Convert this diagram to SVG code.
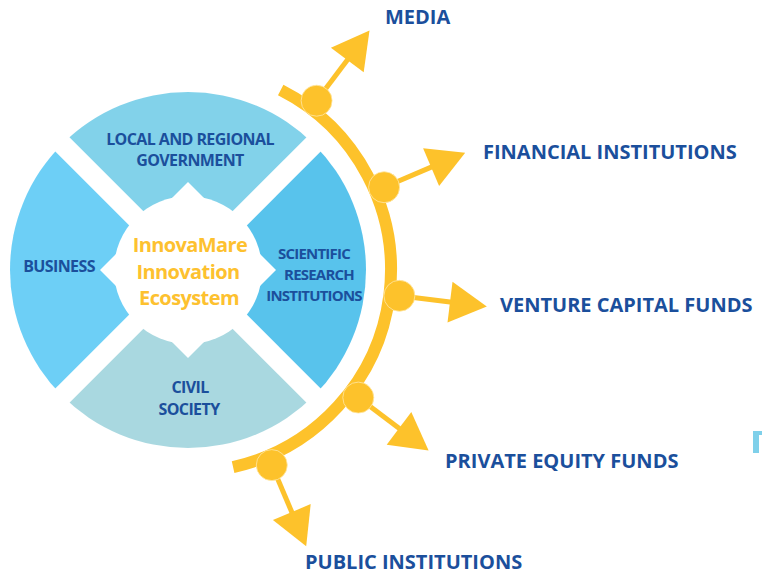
<svg xmlns="http://www.w3.org/2000/svg" width="762" height="575" viewBox="0 0 762 575">
  <style>
    .q { font-family: "Open Sans", "Liberation Sans", sans-serif; font-weight: 700; font-size: 16px; fill: #1B4F9C; text-anchor: middle; letter-spacing: -0.6px; }
    .qs { font-size: 15px; letter-spacing: -0.8px; }
    .ctr { font-family: "Open Sans", "Liberation Sans", sans-serif; font-weight: 700; font-size: 20px; fill: #FDC12F; text-anchor: middle; letter-spacing: -0.6px; }
    .lbl { font-family: "Open Sans", "Liberation Sans", sans-serif; font-weight: 700; font-size: 20px; fill: #1B4F9C; }
    .arc { fill: none; stroke: #FDC22B; stroke-width: 12; }
    .lnk { stroke: #FDC22B; stroke-width: 5; }
    .dot { fill: #FDC22B; stroke: #FFE7A6; stroke-width: 0.8; }
    .head { fill: #FDC22B; }
  </style>
  <defs>
    <mask id="ring" maskUnits="userSpaceOnUse" x="0" y="0" width="762" height="575">
      <circle cx="188" cy="270" r="178" fill="#fff"/>
      <g stroke="#000" stroke-width="20">
        <line x1="-20" y1="62" x2="396" y2="478"/>
        <line x1="396" y1="62" x2="-20" y2="478"/>
      </g>
      <circle cx="188" cy="270" r="74" fill="#000"/>
      <polygon points="188,182 276,270 188,358 100,270" fill="#000"/>
    </mask>
  </defs>
  <rect width="762" height="575" fill="#fff"/>

  <g id="node-local-government">
    <polygon points="188,270 -32,50 408,50" fill="#82D2EA" mask="url(#ring)"/>
    <text class="q" x="190" y="145">LOCAL AND REGIONAL</text>
    <text class="q" x="190" y="166">GOVERNMENT</text>
  </g>
  <g id="node-business">
    <polygon points="188,270 -32,50 -32,490" fill="#6DCFF6" mask="url(#ring)"/>
    <text class="q" x="59" y="272">BUSINESS</text>
  </g>
  <g id="node-scientific">
    <polygon points="188,270 408,50 408,490" fill="#58C3EC" mask="url(#ring)"/>
    <text class="q qs" x="314" y="259">SCIENTIFIC</text>
    <text class="q qs" x="319" y="280">RESEARCH</text>
    <text class="q qs" x="314" y="301">INSTITUTIONS</text>
  </g>
  <g id="node-civil">
    <polygon points="188,270 -32,490 408,490" fill="#A9D8E0" mask="url(#ring)"/>
    <text class="q" x="190" y="393">CIVIL</text>
    <text class="q" x="189" y="415">SOCIETY</text>
  </g>
  <g id="node-center">
    <text class="ctr" x="190" y="252">InnovaMare</text>
    <text class="ctr" x="188" y="279">Innovation</text>
    <text class="ctr" x="189" y="305">Ecosystem</text>
  </g>

  <g id="connectors">
    <path class="arc" d="M280.7,90 A202,202 0 0 1 233.1,467.1"/>
    <line class="lnk" x1="316.6" y1="100.7" x2="349" y2="57.7"/>
    <line class="lnk" x1="384.1" y1="187.2" x2="433" y2="166.4"/>
    <line class="lnk" x1="399.4" y1="295.8" x2="452" y2="302.3"/>
    <line class="lnk" x1="358.3" y1="397.6" x2="401" y2="429.8"/>
    <line class="lnk" x1="271.8" y1="465.1" x2="292.6" y2="514"/>
    <circle class="dot" cx="316.6" cy="100.7" r="15.5"/>
    <circle class="dot" cx="384.1" cy="187.2" r="15.5"/>
    <circle class="dot" cx="399.4" cy="295.8" r="15.5"/>
    <circle class="dot" cx="358.3" cy="397.6" r="15.5"/>
    <circle class="dot" cx="271.8" cy="465.1" r="15.5"/>
    <polygon class="head" points="369.5,30.4 363.7,72.3 330.9,47.7"/>
    <polygon class="head" points="465.2,152.8 439.1,186.1 423.1,148.3"/>
    <polygon class="head" points="486.8,306.6 447.5,322.4 452.5,281.8"/>
    <polygon class="head" points="428.6,450.5 386.7,444.7 411.3,411.9"/>
    <polygon class="head" points="306.2,546.2 272.9,520.1 310.7,504.1"/>
  </g>

  <g id="node-media"><text class="lbl" x="385" y="24">MEDIA</text></g>
  <g id="node-financial"><text class="lbl" x="483" y="159">FINANCIAL INSTITUTIONS</text></g>
  <g id="node-venture"><text class="lbl" x="500" y="312">VENTURE CAPITAL FUNDS</text></g>
  <g id="node-private-equity"><text class="lbl" x="445" y="468">PRIVATE EQUITY FUNDS</text></g>
  <g id="node-public"><text class="lbl" x="305" y="569">PUBLIC INSTITUTIONS</text></g>

  <path d="M753,431 h6 v22 h-6 Z M759,431 h3 v4 h-3 Z" fill="#7FD0EA"/>
</svg>
